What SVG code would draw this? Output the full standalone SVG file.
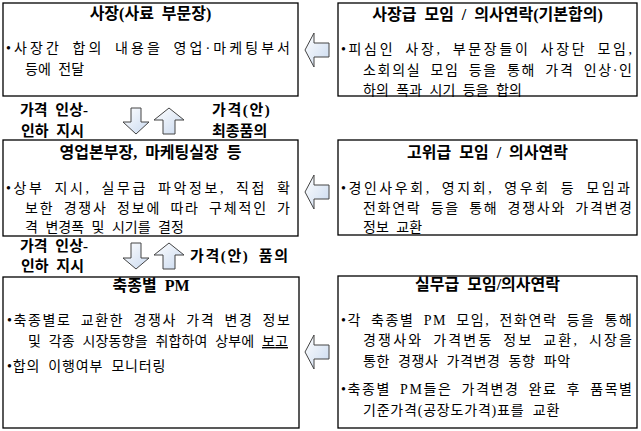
<svg xmlns="http://www.w3.org/2000/svg" width="641" height="431" viewBox="0 0 641 431">
<defs>
<linearGradient id="ag" x1="0" y1="0" x2="1" y2="1">
<stop offset="0" stop-color="#ffffff"/>
<stop offset="1" stop-color="#c9d9ef"/>
</linearGradient>
<style>
.box{fill:#fff;stroke:#000;stroke-width:1.3}
.ttl{font-family:"Liberation Serif","Noto Sans CJK KR",serif;font-weight:bold;font-size:16px;fill:#000;text-anchor:middle;word-spacing:4px}
.bd{font-family:"Liberation Serif","Noto Sans CJK KR",serif;font-size:14px;fill:#000;word-spacing:4px}
.lb{font-family:"Liberation Serif","Noto Sans CJK KR",serif;font-weight:bold;font-size:15px;fill:#000;word-spacing:4px}
.arr{fill:url(#ag);stroke:#444;stroke-width:1}
</style>
</defs>
<rect width="641" height="431" fill="#fff"/>

<g id="n1">
<rect class="box" x="3" y="3" width="295" height="93"/>
<text class="ttl" x="150.5" y="19">사장(사료 부문장)</text>
<text class="bd" x="6" y="53" textLength="284" lengthAdjust="spacing">•사장간 합의 내용을 영업·마케팅부서</text>
<text class="bd" x="25" y="74">등에 전달</text>
</g>

<g id="n2">
<rect class="box" x="338" y="3" width="299" height="93"/>
<text class="ttl" x="487.5" y="20">사장급 모임 / 의사연락(기본합의)</text>
<text class="bd" x="341" y="54" textLength="291" lengthAdjust="spacing">•피심인 사장, 부문장들이 사장단 모임,</text>
<text class="bd" x="363" y="75" textLength="269" lengthAdjust="spacing">소회의실 모임 등을 통해 가격 인상·인</text>
<text class="bd" x="363" y="95">하의 폭과 시기 등을 합의</text>
</g>

<g id="n3">
<rect class="box" x="3" y="140" width="295" height="96"/>
<text class="ttl" x="150.5" y="158">영업본부장, 마케팅실장 등</text>
<text class="bd" x="6" y="193" textLength="284" lengthAdjust="spacing">•상부 지시, 실무급 파악정보, 직접 확</text>
<text class="bd" x="25" y="213" textLength="265" lengthAdjust="spacing">보한 경쟁사 정보에 따라 구체적인 가</text>
<text class="bd" x="25" y="232">격 변경폭 및 시기를 결정</text>
</g>

<g id="n4">
<rect class="box" x="338" y="140" width="299" height="95"/>
<text class="ttl" x="487.5" y="158">고위급 모임 / 의사연락</text>
<text class="bd" x="341" y="193" textLength="289" lengthAdjust="spacing">•경인사우회, 영지회, 영우회 등 모임과</text>
<text class="bd" x="363" y="213" textLength="269" lengthAdjust="spacing">전화연락 등을 통해 경쟁사와 가격변경</text>
<text class="bd" x="363" y="232">정보 교환</text>
</g>

<g id="n5">
<rect class="box" x="3" y="277" width="296" height="151"/>
<text class="ttl" x="151" y="291">축종별 PM</text>
<text class="bd" x="7" y="325" textLength="283" lengthAdjust="spacing">•축종별로 교환한 경쟁사 가격 변경 정보</text>
<text class="bd" x="28" y="346" textLength="260" lengthAdjust="spacing">및 각종 시장동향을 취합하여 상부에 <tspan text-decoration="underline">보고</tspan></text>
<text class="bd" x="7" y="371" letter-spacing="0.8">•합의 이행여부 모니터링</text>
</g>

<g id="n6">
<rect class="box" x="338" y="276" width="299" height="152"/>
<text class="ttl" x="487.5" y="290">실무급 모임/의사연락</text>
<text class="bd" x="341" y="325" textLength="291" lengthAdjust="spacing">•각 축종별 PM 모임, 전화연락 등을 통해</text>
<text class="bd" x="363" y="345" textLength="269" lengthAdjust="spacing">경쟁사와 가격변동 정보 교환, 시장을</text>
<text class="bd" x="363" y="366" letter-spacing="0.6">통한 경쟁사 가격변경 동향 파악</text>
<text class="bd" x="341" y="394" textLength="291" lengthAdjust="spacing">•축종별 PM들은 가격변경 완료 후 품목별</text>
<text class="bd" x="363" y="415" letter-spacing="0.8">기준가격(공장도가격)표를 교환</text>
</g>

<g id="connectors">
<path class="arr" d="M305,50 L314,33 L314,43 L329,43 L329,57 L314,57 L314,67 Z"/>
<path class="arr" d="M305,192 L314,175 L314,185 L329,185 L329,199 L314,199 L314,209 Z"/>
<path class="arr" d="M305,352 L314,335 L314,345 L329,345 L329,359 L314,359 L314,369 Z"/>
<path class="arr" d="M131,108 L141,108 L141,122 L149,122 L136,134 L123,122 L131,122 Z"/>
<path class="arr" d="M169,108 L184,120 L175,120 L175,134 L163,134 L163,120 L154,120 Z"/>
<path class="arr" d="M131,243 L141,243 L141,258 L149,258 L136,269 L123,258 L131,258 Z"/>
<path class="arr" d="M169,243 L184,255 L175,255 L175,269 L163,269 L163,255 L154,255 Z"/>
<text class="lb" x="20" y="115">가격 인상-</text>
<text class="lb" x="21" y="136">인하 지시</text>
<text class="lb" x="212" y="115" letter-spacing="1.6">가격(안)</text>
<text class="lb" x="212" y="136">최종품의</text>
<text class="lb" x="20" y="251">가격 인상-</text>
<text class="lb" x="21" y="271">인하 지시</text>
<text class="lb" x="190" y="261" letter-spacing="1.6">가격(안) 품의</text>
</g>
</svg>
